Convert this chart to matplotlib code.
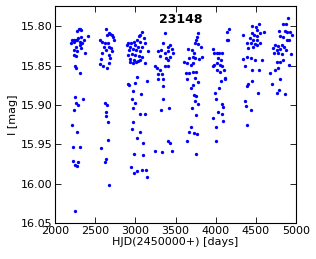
import matplotlib

matplotlib.use("Agg")
import matplotlib.pyplot as plt
import numpy as np
from matplotlib.ticker import FormatStrFormatter, MultipleLocator

title = "23148"
xlabel = "HJD(2450000+) [days]"
ylabel = "I [mag]"

# HJD - 2450000, one line per observing season
hjd = [
    2316, 2295, 2325, 2276, 2213, 2233, 2263, 2283, 2325, 2357, 2407, 2201, 2242, 2276, 2308, 2338,
    2316, 2267, 2233, 2276, 2325, 2379, 2233, 2267, 2254, 2267, 2316,
    2254, 2354, 2263, 2292, 2242, 2213, 2271, 2221, 2308, 2221, 2292, 2251, 2276, 2251,
    2639, 2565, 2586, 2648, 2668, 2689, 2710, 2722, 2738, 2627, 2655, 2606, 2668, 2697, 2639, 2710,
    2586, 2668, 2573, 2680, 2565, 2598, 2648, 2668,
    2623, 2643, 2630, 2635, 2664, 2655, 2577, 2639, 2623, 2668,
    3082, 3061, 3040, 3020, 3102, 2978, 3061, 3123, 2896, 2937, 2999, 3028, 3082, 3152, 2916, 2970,
    3011, 3052, 2903, 2958, 2999, 3040, 3082, 2937, 2987, 3028, 3061, 3123, 2928, 2970, 3011, 2903,
    2946, 3015, 2908, 2921, 2990, 3144, 2965, 3070, 2953, 2999, 2965, 3052, 3114, 2965, 2962, 3052,
    3020, 3095, 2978, 3090, 2946, 2978, 3024, 3082, 3127, 3144,
    3371, 3350, 3318, 3288, 3412, 3433, 3400, 3371, 3454, 3474, 3425, 3400, 3309, 3384, 3247, 3268,
    3371, 3400, 3301, 3276, 3330, 3281, 3347, 3343, 3350, 3325, 3421, 3400, 3437, 3243, 3334, 3454,
    3785, 3765, 3756, 3744, 3785, 3814, 3703, 3731, 3660, 3607, 3673, 3715, 3744, 3797, 3827, 3641,
    3690, 3723, 3632, 3673, 3715, 3756, 3648, 3744, 3785, 3719, 3690, 3731, 3756, 3747, 3785, 3703,
    3756, 3694, 3673, 3735, 3772, 3644, 3760,
    4169, 4144, 4137, 4157, 3971, 3983, 4013, 4045, 4075, 4033, 4062, 4020, 3963, 3979, 4054, 4075,
    4013, 4104, 4054, 4116, 4062, 4120, 3992, 4041, 4008, 4075, 4095, 4029, 4082, 3967, 4087, 4000,
    4008,
    4447, 4542, 4500, 4517, 4343, 4447, 4476, 4509, 4550, 4600, 4426, 4467, 4509, 4385, 4435, 4488,
    4550, 4405, 4459, 4517, 4336, 4385, 4435, 4488, 4571, 4364, 4447, 4542, 4451, 4398, 4389, 4525,
    4368, 4380, 4435, 4389,
    4902, 4873, 4832, 4790, 4861, 4889, 4922, 4943, 4798, 4840, 4882, 4914, 4736, 4777, 4820, 4849,
    4708, 4757, 4798, 4873, 4724, 4777, 4820, 4931, 4757, 4798, 4840, 4914, 4674, 4736, 4777, 4695,
    4790, 4765, 4861, 4802,
]

# I-band magnitude, same order as hjd
mag = [
    15.803, 15.804, 15.805, 15.806, 15.817, 15.817, 15.817, 15.815, 15.814, 15.817, 15.813, 15.822,
    15.820, 15.818, 15.820, 15.821, 15.824, 15.826, 15.830, 15.832, 15.828, 15.834, 15.837, 15.838,
    15.850, 15.853, 15.859,
    15.890, 15.892, 15.897, 15.900, 15.907, 15.926, 15.935, 15.954, 15.953, 15.971, 15.972, 15.976,
    15.977, 16.035,
    15.803, 15.817, 15.820, 15.811, 15.809, 15.810, 15.811, 15.814, 15.818, 15.822, 15.821, 15.826,
    15.826, 15.828, 15.830, 15.832, 15.834, 15.837, 15.842, 15.841, 15.848, 15.851, 15.853, 15.847,
    15.898, 15.900, 15.909, 15.914, 15.922, 15.944, 15.955, 15.969, 15.973, 16.002,
    15.808, 15.811, 15.813, 15.817, 15.815, 15.820, 15.820, 15.822, 15.824, 15.826, 15.824, 15.826,
    15.826, 15.832, 15.830, 15.829, 15.830, 15.832, 15.837, 15.835, 15.837, 15.838, 15.839, 15.842,
    15.843, 15.844, 15.843, 15.847, 15.846, 15.847, 15.845, 15.822, 15.821,
    15.864, 15.873, 15.875, 15.872, 15.870, 15.882, 15.886, 15.892, 15.898, 15.904, 15.912, 15.911,
    15.922, 15.931, 15.934, 15.942, 15.949, 15.962, 15.964, 15.979, 15.986, 15.984, 15.983, 15.983,
    15.991,
    15.809, 15.822, 15.830, 15.831, 15.826, 15.824, 15.832, 15.834, 15.829, 15.834, 15.839, 15.843,
    15.838, 15.841, 15.851, 15.853, 15.850, 15.851, 15.856, 15.861, 15.861,
    15.867, 15.867, 15.876, 15.892, 15.907, 15.904, 15.946, 15.948, 15.959, 15.960, 15.958,
    15.809, 15.814, 15.817, 15.822, 15.823, 15.827, 15.830, 15.834, 15.829, 15.845, 15.841, 15.839,
    15.841, 15.842, 15.839, 15.847, 15.849, 15.847, 15.860, 15.859, 15.858, 15.858,
    15.867, 15.866, 15.871, 15.875, 15.878, 15.887, 15.889, 15.895, 15.899, 15.904, 15.913, 15.928,
    15.935, 15.936, 15.937, 15.946, 15.962,
    15.804, 15.808, 15.818, 15.817, 15.829, 15.834, 15.834, 15.834, 15.834, 15.841, 15.843, 15.847,
    15.851, 15.849, 15.849, 15.851, 15.856, 15.856, 15.858, 15.866,
    15.870, 15.867, 15.885, 15.879, 15.892, 15.899, 15.903, 15.909, 15.911, 15.917, 15.920, 15.928,
    15.946,
    15.800, 15.797, 15.801, 15.805, 15.811, 15.809, 15.811, 15.812, 15.809, 15.807, 15.815, 15.817,
    15.817, 15.822, 15.822, 15.823, 15.822, 15.828, 15.826, 15.824, 15.842, 15.839, 15.841, 15.843,
    15.843, 15.851, 15.856, 15.856,
    15.870, 15.873, 15.876, 15.885, 15.895, 15.902, 15.906, 15.926,
    15.790, 15.797, 15.797, 15.806, 15.806, 15.808, 15.807, 15.811, 15.813, 15.814, 15.817, 15.817,
    15.824, 15.825, 15.824, 15.826, 15.828, 15.830, 15.829, 15.830, 15.834, 15.834, 15.835, 15.835,
    15.845, 15.845, 15.843, 15.849, 15.859, 15.856, 15.853,
    15.873, 15.881, 15.885, 15.886, 15.867,
]

xticks = [2000, 2500, 3000, 3500, 4000, 4500, 5000]

fig = plt.figure(figsize=(3.16, 2.59), dpi=100)
ax = fig.add_axes([0.174, 0.139, 0.763, 0.839])
ax.plot(np.array(hjd), np.array(mag), "o", color="b", markersize=2.4, markeredgewidth=0)

ax.set_xlim(2000, 5000)
ax.set_ylim(16.05, 15.774)
ax.set_xticks(xticks)
ax.yaxis.set_major_locator(MultipleLocator(0.05))
ax.yaxis.set_major_formatter(FormatStrFormatter("%.2f"))
ax.tick_params(direction="in", length=4, width=0.6, top=True, right=True, labelsize=8, pad=2)
for s in ax.spines.values():
    s.set_linewidth(0.8)

ax.set_xlabel(xlabel, fontsize=8, labelpad=1)
ax.set_ylabel(ylabel, fontsize=8, labelpad=2)
ax.text(0.52, 0.965, title, transform=ax.transAxes, ha="center", va="top",
        fontsize=9, fontweight="bold")

fig.savefig("out.png", dpi=100)
